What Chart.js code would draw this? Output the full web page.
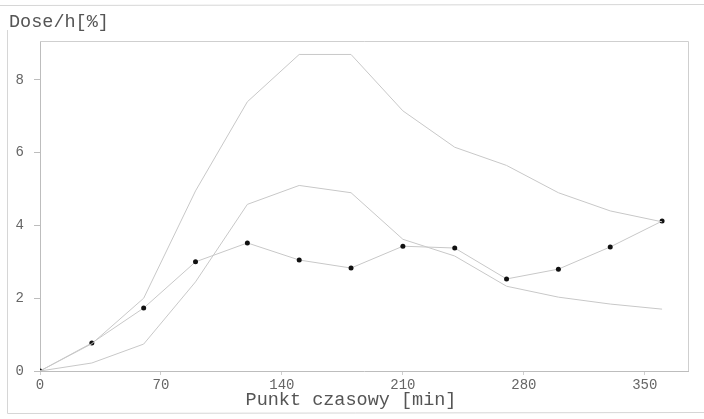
<!DOCTYPE html>
<html>
<head>
<meta charset="utf-8">
<script src="https://cdn.jsdelivr.net/npm/chart.js@4"></script>
<style>
  html, body { margin: 0; padding: 0; background: #fff; }
  #wrap { width: 704px; height: 419px; position: relative; }
</style>
</head>
<body>
<div id="wrap"><canvas id="chart"></canvas></div>
<script>
// time points [min]
const timePoints = [0, 30, 60, 90, 120, 150, 180, 210, 240, 270, 300, 330, 360];
// dose/h [%]
const upperValues = [0, 0.75, 2.0, 4.95, 7.4, 8.7, 8.7, 7.15, 6.15, 5.65, 4.9, 4.4, 4.1];
const meanValues = [0, 0.77, 1.73, 3.0, 3.52, 3.05, 2.83, 3.43, 3.38, 2.53, 2.8, 3.41, 4.12];
const lowerValues = [0, 0.22, 0.74, 2.45, 4.58, 5.1, 4.9, 3.62, 3.16, 2.33, 2.03, 1.84, 1.7];
const xTicks = [0, 70, 140, 210, 280, 350];
const yTicks = [0, 2, 4, 6, 8];

const mono = "'Liberation Mono', 'DejaVu Sans Mono', monospace";
const lineGrey = "#c8c8c8";

function toPoints(values) {
  return timePoints.map((t, i) => ({ x: t, y: values[i] }));
}

// frame, y caption and x caption
const decor = {
  id: "decor",
  beforeDatasetsDraw(chart) {
    const { ctx, chartArea } = chart;
    ctx.save();
    ctx.strokeStyle = "#cfcfcf";
    ctx.lineWidth = 1;
    ctx.beginPath();
    ctx.moveTo(chartArea.left, chartArea.top + 0.5);
    ctx.lineTo(chartArea.right + 0.5, chartArea.top + 0.5);
    ctx.lineTo(chartArea.right + 0.5, chartArea.bottom);
    ctx.stroke();
    // outer frame
    ctx.strokeStyle = "#d6d6d6";
    ctx.beginPath();
    ctx.moveTo(0, 5.5);
    ctx.lineTo(704, 4.5);
    ctx.moveTo(7.5, 30);
    ctx.lineTo(7.5, 413.5);
    ctx.lineTo(704, 412.5);
    ctx.stroke();
    ctx.fillStyle = "#555";
    ctx.font = "18.5px " + mono;
    ctx.textBaseline = "middle";
    ctx.textAlign = "left";
    ctx.fillText("Dose/h[%]", 9, 22);
    ctx.textAlign = "center";
    ctx.fillText("Punkt czasowy [min]", 351, 400);
    ctx.restore();
  }
};

new Chart(document.getElementById("chart"), {
  type: "line",
  data: {
    datasets: [
      {
        data: toPoints(upperValues),
        borderColor: lineGrey,
        borderWidth: 1,
        pointRadius: 0,
        tension: 0
      },
      {
        data: toPoints(lowerValues),
        borderColor: lineGrey,
        borderWidth: 1,
        pointRadius: 0,
        tension: 0
      },
      {
        data: toPoints(meanValues),
        borderColor: lineGrey,
        borderWidth: 1,
        pointRadius: 2.5,
        pointBackgroundColor: "#111",
        pointBorderColor: "#111",
        pointBorderWidth: 0,
        tension: 0
      }
    ]
  },
  options: {
    responsive: true,
    maintainAspectRatio: false,
    animation: false,
    layout: { padding: { top: 41, right: 16, left: 0, bottom: 0 } },
    plugins: {
      legend: { display: false },
      tooltip: { enabled: false }
    },
    scales: {
      x: {
        type: "linear",
        min: 0,
        max: 375,
        afterBuildTicks: (axis) => { axis.ticks = xTicks.map(v => ({ value: v })); },
        afterFit: (scale) => { scale.height = 48; },
        border: { color: "#bdbdbd" },
        grid: { drawOnChartArea: false, tickLength: 4, color: "#cfcfcf" },
        ticks: {
          color: "#666",
          font: { family: mono, size: 14 },
          padding: 2,
          maxRotation: 0
        }
      },
      y: {
        min: 0,
        max: 9.07,
        afterBuildTicks: (axis) => { axis.ticks = yTicks.map(v => ({ value: v })); },
        afterFit: (scale) => { scale.width = 40; },
        border: { color: "#bdbdbd" },
        grid: { drawOnChartArea: false, tickLength: 6, color: "#bdbdbd" },
        ticks: {
          color: "#666",
          font: { family: mono, size: 14 },
          padding: 10
        }
      }
    }
  },
  plugins: [decor]
});
</script>
</body>
</html>
